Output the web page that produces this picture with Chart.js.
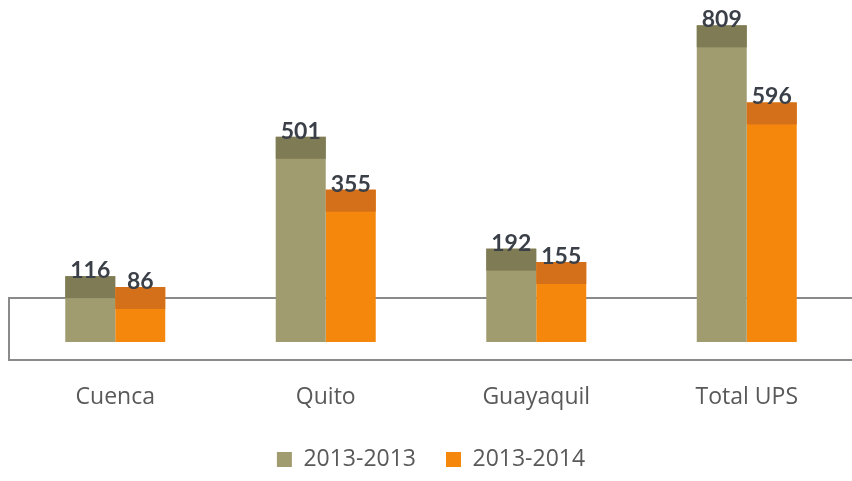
<!DOCTYPE html>
<html><head><meta charset="utf-8">
<script src="https://cdn.jsdelivr.net/npm/chart.js@4"></script>
<style>html,body{margin:0;padding:0;background:#fff}#wrap{width:852px;height:481px;position:relative}</style>
</head><body><div id="wrap"><canvas id="c"></canvas></div>
<script>
const categories = ['Cuenca', 'Quito', 'Guayaquil', 'Total UPS'];
const seriesNames = ['2013-2013', '2013-2014'];
const values2013 = [116, 501, 192, 809];
const values2014 = [86, 355, 155, 596];

const bodyColors = ['#a19c70', '#f4870c'];
const topColors = ['#7f7b55', '#d4701a'];

const floorPlugin = {
  id: 'floor',
  beforeDatasetsDraw(chart) {
    const {ctx, chartArea: a} = chart;
    ctx.save();
    ctx.strokeStyle = '#8a8a8a';
    ctx.lineWidth = 2;
    const top = a.bottom - 44, bottom = a.bottom + 18;
    ctx.beginPath();
    ctx.moveTo(chart.width + 5, top);
    ctx.lineTo(a.left - 1, top);
    ctx.lineTo(a.left - 1, bottom);
    ctx.lineTo(chart.width + 5, bottom);
    ctx.stroke();
    ctx.restore();
  }
};

const topsAndLabels = {
  id: 'topsAndLabels',
  afterDatasetsDraw(chart) {
    const ctx = chart.ctx;
    ctx.save();
    chart.data.datasets.forEach((ds, di) => {
      const meta = chart.getDatasetMeta(di);
      meta.data.forEach((bar, i) => {
        const p = bar.getProps(['x', 'y', 'base', 'width'], true);
        const h = Math.min(22, p.base - p.y);
        ctx.fillStyle = topColors[di];
        ctx.fillRect(p.x - p.width / 2, p.y, p.width, h);
      });
    });
    ctx.font = 'bold 23px Lato';
    ctx.fillStyle = '#3b3f47';
    ctx.textAlign = 'center';
    ctx.textBaseline = 'alphabetic';
    chart.data.datasets.forEach((ds, di) => {
      const meta = chart.getDatasetMeta(di);
      meta.data.forEach((bar, i) => {
        const p = bar.getProps(['x', 'y'], true);
        ctx.fillText(String(ds.data[i]), p.x, p.y + 2);
      });
    });
    ctx.restore();
  }
};

new Chart(document.getElementById('c'), {
  type: 'bar',
  data: {
    labels: categories,
    datasets: [
      { label: seriesNames[0], data: values2013, backgroundColor: bodyColors[0], base: -66 },
      { label: seriesNames[1], data: values2014, backgroundColor: bodyColors[1], base: -66 }
    ]
  },
  options: {
    responsive: true,
    maintainAspectRatio: false,
    animation: false,
    datasets: { bar: { barPercentage: 1, categoryPercentage: 0.475 } },
    layout: { padding: { left: 10, right: 0, top: 0, bottom: 0 } },
    scales: {
      x: {
        grid: { display: false, drawTicks: false },
        border: { display: false },
        ticks: { color: '#595959', font: { family: 'Open Sans', size: 23 }, padding: 42 },
        afterFit: (scale) => { scale.height = 76; }
      },
      y: { display: false, min: -66, max: 879 }
    },
    plugins: {
      tooltip: { enabled: false },
      legend: {
        position: 'bottom',
        labels: {
          boxWidth: 15, boxHeight: 15, padding: 30,
          color: '#595959',
          font: { family: 'Open Sans', size: 23 }
        }
      }
    }
  },
  plugins: [floorPlugin, topsAndLabels]
});
</script>
</body></html>
